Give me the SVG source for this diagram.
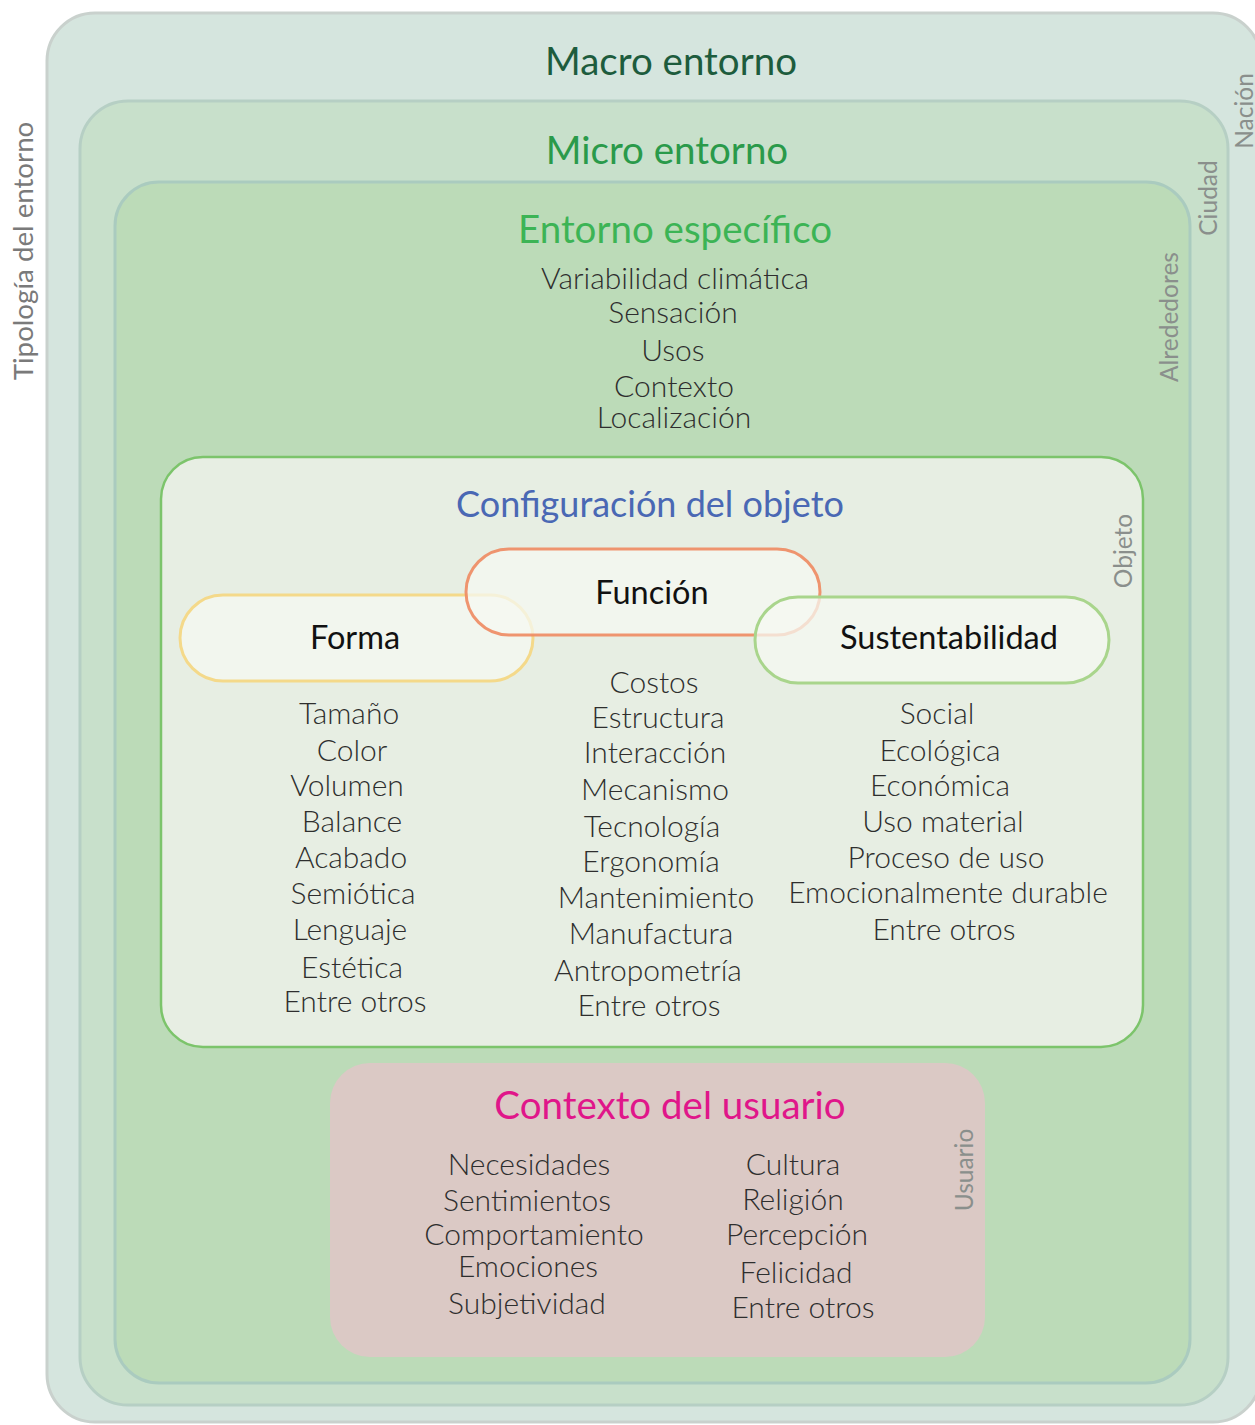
<svg xmlns="http://www.w3.org/2000/svg" width="1255" height="1425" viewBox="0 0 1255 1425">
<style>
text{font-family:Lato,"Noto Sans","Liberation Sans",sans-serif;text-anchor:middle}
.title{font-size:38.5px;font-weight:400}
.item{font-size:30px;font-weight:300;fill:#2e2e2e}
.side{font-size:24.5px;font-weight:400;fill:#8a8f8c}
.oval{fill:#f6f8f2;fill-opacity:0.75;stroke-width:3}
.ovlabel{font-size:32.5px;font-weight:400;fill:#111}
</style>
<rect width="1255" height="1425" fill="#ffffff"/>
<g id="macro">
<rect x="47" y="13" width="1214" height="1409" rx="48" fill="#d5e5de" stroke="#c9d1cd" stroke-width="3"/>
<text class="title" x="671" y="75" fill="#1d5c3d">Macro entorno</text>
<text class="side" transform="translate(1253,111) rotate(-90)">Nación</text>
</g>
<g id="micro">
<rect x="80" y="101" width="1148" height="1304" rx="48" fill="#c8e0cb" stroke="#b6cfc4" stroke-width="3"/>
<text class="title" x="667" y="164" fill="#2a9a4a">Micro entorno</text>
<text class="side" transform="translate(1217,198) rotate(-90)">Ciudad</text>
</g>
<g id="especifico">
<rect x="115" y="182" width="1075" height="1201" rx="44" fill="#bcdbb8" stroke="#aacbbf" stroke-width="3"/>
<text class="title" x="675" y="243" fill="#3cb455">Entorno específico</text>
<text class="item" x="675" y="289">Variabilidad climática</text>
<text class="item" x="673" y="323">Sensación</text>
<text class="item" x="673" y="361">Usos</text>
<text class="item" x="674" y="397">Contexto</text>
<text class="item" x="674" y="428">Localización</text>
<text class="side" transform="translate(1178,317) rotate(-90)">Alrededores</text>
</g>
<g id="tipologia">
<text class="side" style="font-size:27.7px;fill:#7a7a7a" transform="translate(33,251) rotate(-90)">Tipología del entorno</text>
</g>
<g id="objeto">
<rect x="161" y="457" width="982" height="590" rx="42" fill="#e7eee3" stroke="#7cc46b" stroke-width="2.5"/>
<text x="650" y="517" style="font-size:36px;fill:#4a68b4">Configuración del objeto</text>
<text class="side" transform="translate(1132,551) rotate(-90)">Objeto</text>
</g>
<g id="forma">
<rect class="oval" x="180" y="595" width="353" height="86" rx="43" stroke="#f4d98a"/>
<text class="ovlabel" x="355" y="649">Forma</text>
</g>
<g id="funcion">
<rect class="oval" x="466" y="549" width="354" height="86" rx="43" stroke="#ee8a60" stroke-opacity="0.9"/>
<text class="ovlabel" x="652" y="604">Función</text>
</g>
<g id="sustentabilidad">
<rect class="oval" x="755" y="597" width="354" height="86" rx="43" stroke="#a9d58c"/>
<text class="ovlabel" x="949" y="649">Sustentabilidad</text>
</g>
<g id="forma-list">
<text class="item" x="349" y="724">Tamaño</text>
<text class="item" x="352" y="761">Color</text>
<text class="item" x="347" y="796">Volumen</text>
<text class="item" x="352" y="832">Balance</text>
<text class="item" x="351" y="868">Acabado</text>
<text class="item" x="353" y="904">Semiótica</text>
<text class="item" x="350" y="940">Lenguaje</text>
<text class="item" x="352" y="978">Estética</text>
<text class="item" x="355" y="1012">Entre otros</text>
</g>
<g id="funcion-list">
<text class="item" x="654" y="693">Costos</text>
<text class="item" x="658" y="728">Estructura</text>
<text class="item" x="655" y="763">Interacción</text>
<text class="item" x="655" y="800">Mecanismo</text>
<text class="item" x="652" y="837">Tecnología</text>
<text class="item" x="651" y="872">Ergonomía</text>
<text class="item" x="656" y="908">Mantenimiento</text>
<text class="item" x="651" y="944">Manufactura</text>
<text class="item" x="648" y="981">Antropometría</text>
<text class="item" x="649" y="1016">Entre otros</text>
</g>
<g id="sustentabilidad-list">
<text class="item" x="937" y="724">Social</text>
<text class="item" x="940" y="761">Ecológica</text>
<text class="item" x="940" y="796">Económica</text>
<text class="item" x="943" y="832">Uso material</text>
<text class="item" x="946" y="868">Proceso de uso</text>
<text class="item" x="948" y="903">Emocionalmente durable</text>
<text class="item" x="944" y="940">Entre otros</text>
</g>
<g id="usuario">
<rect x="330" y="1063" width="655" height="294" rx="40" fill="#dbc9c5"/>
<text x="670" y="1119" style="font-size:38.5px;fill:#e0168a">Contexto del usuario</text>
<text class="item" x="529" y="1175">Necesidades</text>
<text class="item" x="527" y="1211">Sentimientos</text>
<text class="item" x="534" y="1245">Comportamiento</text>
<text class="item" x="528" y="1277">Emociones</text>
<text class="item" x="527" y="1314">Subjetividad</text>
<text class="item" x="793" y="1175">Cultura</text>
<text class="item" x="793" y="1210">Religión</text>
<text class="item" x="797" y="1245">Percepción</text>
<text class="item" x="796" y="1283">Felicidad</text>
<text class="item" x="803" y="1318">Entre otros</text>
<text class="side" transform="translate(973,1170) rotate(-90)">Usuario</text>
</g>
<g id="connectors"></g>
</svg>
